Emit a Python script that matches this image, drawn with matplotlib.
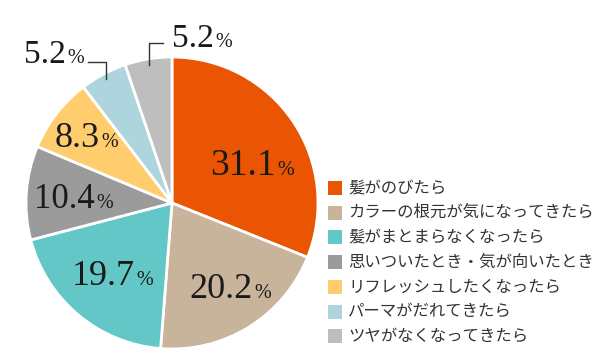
import numpy as np
import matplotlib.pyplot as plt
from matplotlib.patches import Rectangle

plt.rcParams['font.family'] = ['Noto Sans CJK JP', 'DejaVu Sans']

# data
labels = ['髪がのびたら', 'カラーの根元が気になってきたら', '髪がまとまらなくなったら',
          '思いついたとき・気が向いたとき', 'リフレッシュしたくなったら',
          'パーマがだれてきたら', 'ツヤがなくなってきたら']
values = [31.1, 20.2, 19.7, 10.4, 8.3, 5.2, 5.2]
colors = ['#EA5504', '#C8B39B', '#62C7C6', '#9B9B9B', '#FFCD6E', '#AED5DE', '#BEBEBE']

# label anchor (split point between number and %), data coords of pie (radius 1)
cx, cy, R = 172, 203, 146
def px(x, y):
    return (x - cx) / R, (cy - y) / R

label_px = [(276, 175), (253, 298), (135, 285), (95, 208), (100, 147), (66, 63), (214, 47)]
label_size = [27, 26, 26, 25, 26, 24, 24]

fig = plt.figure(figsize=(6, 3.54), dpi=100)
ax = fig.add_axes([26 / 600, 5 / 354, 292 / 600, 292 / 354])

wedges, _ = ax.pie(values, colors=colors, startangle=90, counterclock=False,
                   radius=1, wedgeprops=dict(edgecolor='white', linewidth=2))
ax.set_xlim(-1, 1)
ax.set_ylim(-1, 1)
ax.set_aspect('equal')
ax.axis('off')

for v, (x, y), s in zip(values, label_px, label_size):
    dx, dy = px(x, y)
    ax.text(dx, dy, f'{v:.1f}', fontsize=s, family='Liberation Serif',
            ha='right', va='baseline', color='#1a1a1a')
    ax.text(dx + 0.01, dy, '%', fontsize=14.5, family='Liberation Serif',
            ha='left', va='baseline', color='#1a1a1a')

# leader lines for the two small slices
cum = np.cumsum([0] + values)
tot = sum(values)
for i, ytop, xend in [(5, 62, 88), (6, 43, 163)]:
    mid = (cum[i] + values[i] / 2) / tot * 2 * np.pi
    x0, y0 = 0.96 * np.sin(mid), 0.96 * np.cos(mid)
    _, y1 = px(0, ytop)
    x2, _ = px(xend, 0)
    ax.plot([x0, x0, x2], [y0, y1, y1], color='#333333', lw=1, clip_on=False)

# legend
for i, (lab, c) in enumerate(zip(labels, colors)):
    yc = 188 + i * 24.7
    fig.patches.append(Rectangle((328 / 600, (354 - yc - 7) / 354), 14 / 600, 14 / 354,
                                 transform=fig.transFigure, facecolor=c, edgecolor='none'))
    fig.text(348 / 600, (354 - yc) / 354, lab, fontsize=11.8, color='#333333',
             ha='left', va='center')

plt.savefig('out.png')
